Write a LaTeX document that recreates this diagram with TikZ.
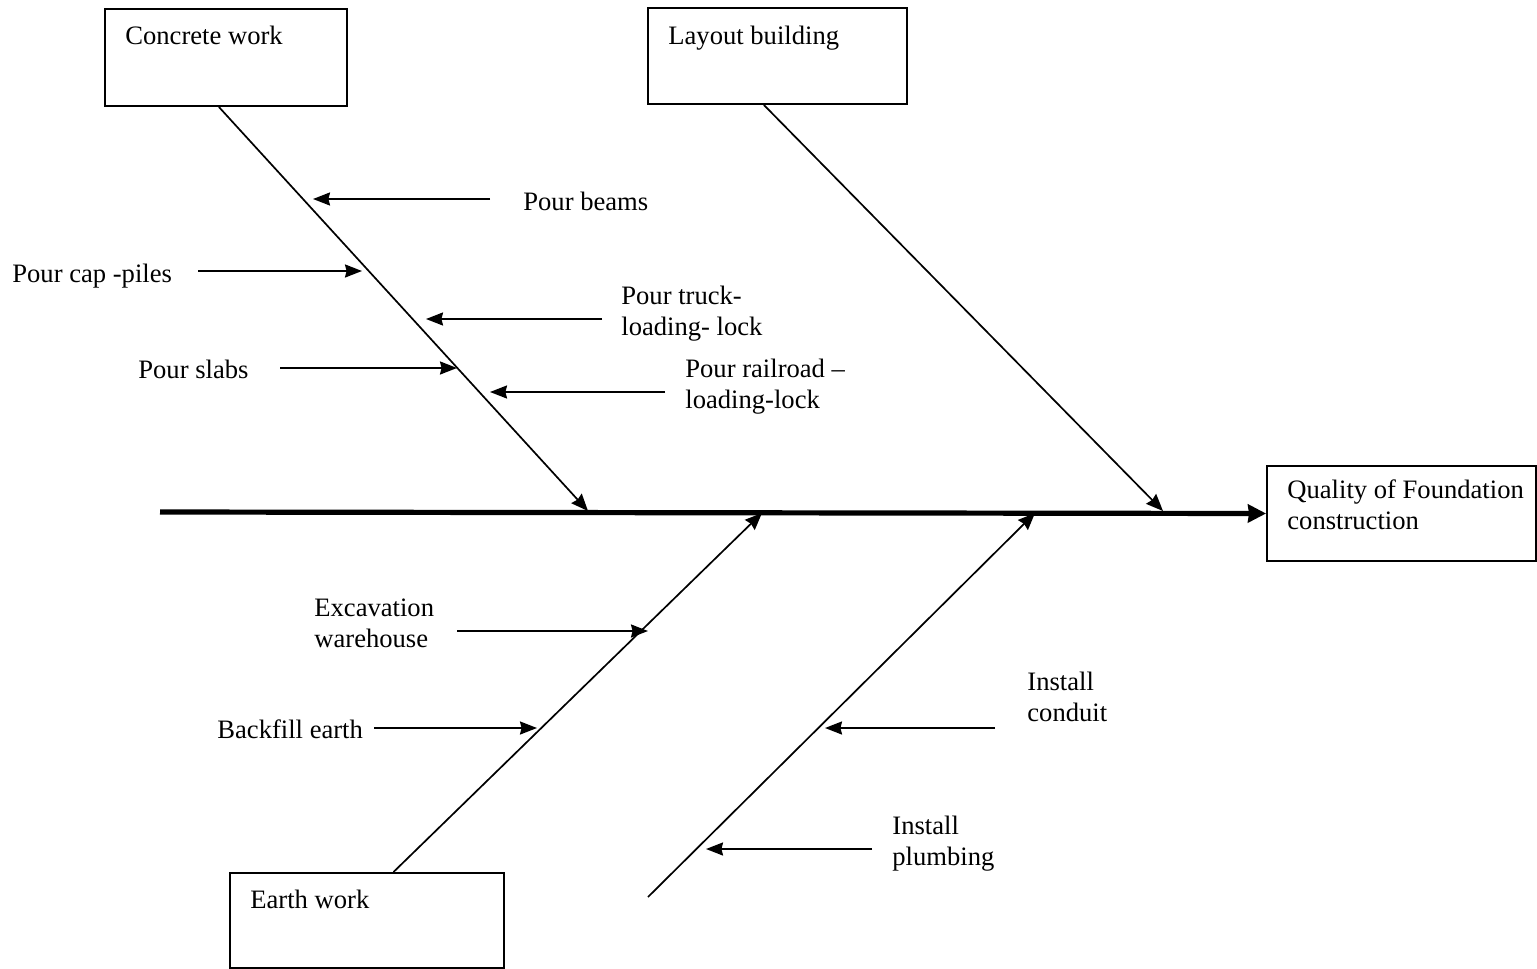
\documentclass[tikz,border=0pt]{standalone}
\usepackage{fontspec}
\setmainfont{Liberation Serif}
\usetikzlibrary{arrows.meta,calc}
\begin{document}
\begin{tikzpicture}[x=0.5pt,y=-0.5pt,
  every node/.style={font=\fontsize{13.3}{15.5}\selectfont},
  causebox/.style={draw,line width=1pt,anchor=north west,inner sep=0pt},
  lbl/.style={anchor=base west,inner sep=0pt,align=left},
  bone/.style={line width=0.85pt,-{Stealth[length=8.5pt,width=7pt,inset=0.8pt]}},
  sub/.style={line width=1pt,-{Stealth[length=8.5pt,width=6.5pt,inset=0.8pt]}},
  spine/.style={line width=2.6pt,-{Stealth[length=9pt,width=9pt,inset=0.5pt]}}]
\useasboundingbox (0,0) rectangle (1537,969);

% category and effect boxes
\node[causebox,minimum width=121pt,minimum height=48.5pt] (cw) at (104,8) {};
\node[lbl] (cwt) at (125,44) {Concrete work};
\node[causebox,minimum width=129.5pt,minimum height=48pt] (lb) at (647,7) {};
\node[lbl] (lbt) at (668,44) {Layout building};
\node[causebox,minimum width=134.5pt,minimum height=47.5pt] (q) at (1266,465) {};
\node[lbl] (qt) at (1287,529) {Quality of Foundation\\construction};
\node[causebox,minimum width=137pt,minimum height=47.5pt] (ew) at (229,872) {};
\node[lbl] (ewt) at (250,908) {Earth work};

% spine
\coordinate (tail) at (160,512);
\draw[spine] (tail) -- (q.west);

% main bones
\coordinate (cw-end) at (588,511);
\coordinate (lb-end) at (1163,511);
\coordinate (ew-end) at (762,513);
\coordinate (in-start) at (648,897);
\coordinate (in-end) at (1035,513);
\draw[bone] ($(cw.south west)!0.471!(cw.south east)$) -- (cw-end);
\draw[bone] ($(lb.south west)!0.448!(lb.south east)$) -- (lb-end);
\draw[bone] ($(ew.north west)!0.596!(ew.north east)$) -- (ew-end);
\draw[bone] (in-start) -- (in-end);

% concrete work causes
\node[lbl] (pb) at (523,210) {Pour beams};
\coordinate (pb-s) at (490,199); \coordinate (pb-e) at (313,199);
\draw[sub] (pb-s) -- (pb-e);

\node[lbl] (pc) at (12,282) {Pour cap -piles};
\coordinate (pc-s) at (198,271); \coordinate (pc-e) at (362,271);
\draw[sub] (pc-s) -- (pc-e);

\node[lbl] (pt) at (621,335) {Pour truck-\\loading- lock};
\coordinate (pt-s) at (602,319); \coordinate (pt-e) at (426,319);
\draw[sub] (pt-s) -- (pt-e);

\node[lbl] (ps) at (138,378) {Pour slabs};
\coordinate (ps-s) at (280,368); \coordinate (ps-e) at (457,368);
\draw[sub] (ps-s) -- (ps-e);

\node[lbl] (pr) at (685,408) {Pour railroad --\\loading-lock};
\coordinate (pr-s) at (665,392); \coordinate (pr-e) at (490,392);
\draw[sub] (pr-s) -- (pr-e);

% earth work causes
\node[lbl] (ex) at (314,647) {Excavation\\warehouse};
\coordinate (ex-s) at (457,631); \coordinate (ex-e) at (648,631);
\draw[sub] (ex-s) -- (ex-e);

\node[lbl] (bf) at (217,738) {Backfill earth};
\coordinate (bf-s) at (374,728); \coordinate (bf-e) at (537,728);
\draw[sub] (bf-s) -- (bf-e);

% installation causes
\node[lbl] (ic) at (1027,721) {Install\\conduit};
\coordinate (ic-s) at (995,728); \coordinate (ic-e) at (825,728);
\draw[sub] (ic-s) -- (ic-e);

\node[lbl] (ip) at (892,865) {Install\\plumbing};
\coordinate (ip-s) at (872,849); \coordinate (ip-e) at (706,849);
\draw[sub] (ip-s) -- (ip-e);
\end{tikzpicture}
\end{document}
